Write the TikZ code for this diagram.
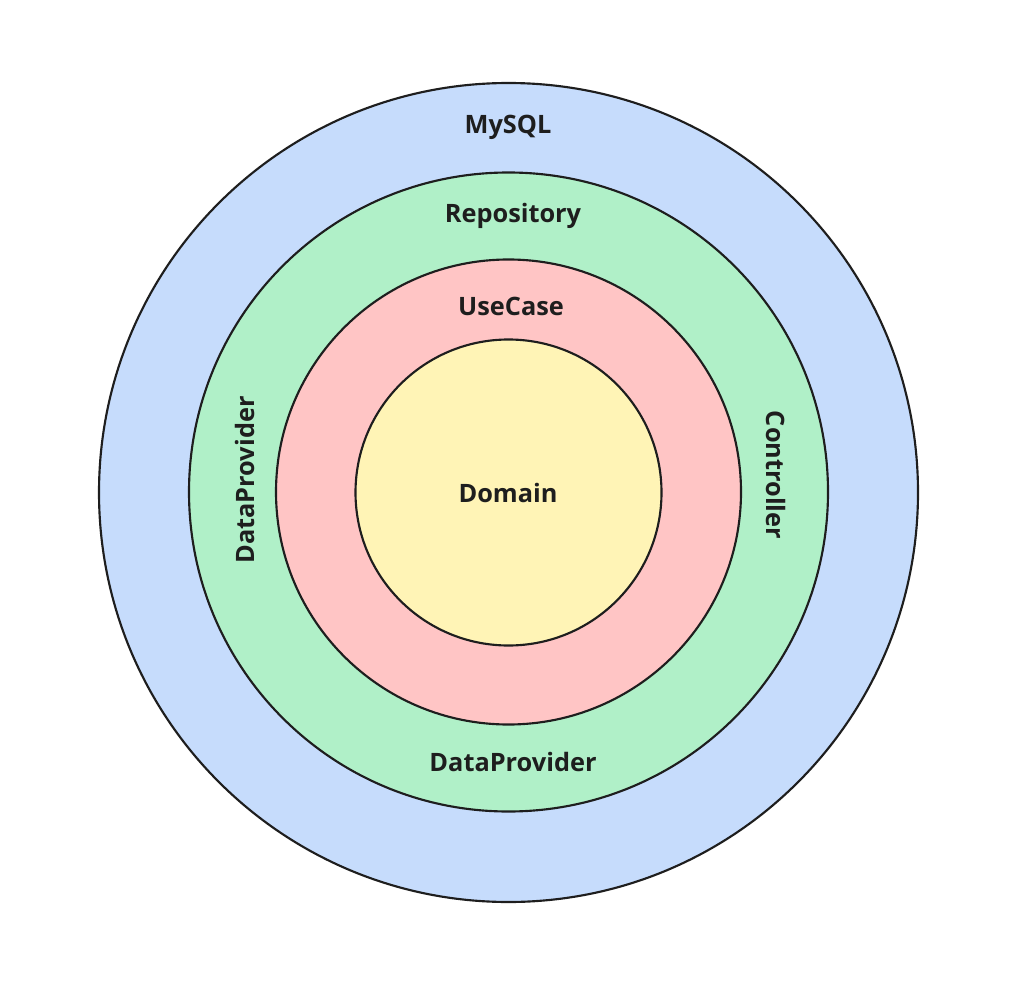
\documentclass[tikz,border=0pt]{standalone}
\usepackage{fontspec}
\setmainfont{Open Sans}
\definecolor{ringblue}{RGB}{198,220,252}
\definecolor{ringgreen}{RGB}{176,240,200}
\definecolor{ringpink}{RGB}{255,197,197}
\definecolor{ringyellow}{RGB}{255,244,182}
\definecolor{inkdark}{RGB}{30,30,30}
\begin{document}
\begin{tikzpicture}[x=0.75pt,y=-0.75pt,
  ring/.style={circle, draw=inkdark, line width=1.6pt, inner sep=0pt, outer sep=0pt},
  lbl/.style={font=\bfseries\fontsize{19}{22}\selectfont, text=inkdark, inner sep=0pt}]
\useasboundingbox (0,0) rectangle (1019,980);
\node[ring, fill=ringblue, minimum size=614.25pt] (mysql) at (508.5,492.5) {};
\node[ring, fill=ringgreen, minimum size=479.25pt] (repo) at (508.5,492) {};
\node[ring, fill=ringpink, minimum size=348.75pt] (usecase) at (508.5,492) {};
\node[ring, fill=ringyellow, minimum size=229.5pt] (domain) at (508.5,492.5) {};
\node[lbl] (tmysql) at (508,127) {MySQL};
\node[lbl] (trepo) at (513,216) {Repository};
\node[lbl] (tuse) at (511,306) {UseCase};
\node[lbl] (tdom) at (508,493) {Domain};
\node[lbl, rotate=90] (tdpl) at (245,480) {DataProvider};
\node[lbl, rotate=-90] (tctrl) at (776,475) {Controller};
\node[lbl] (tdpb) at (513,762) {DataProvider};
\end{tikzpicture}
\end{document}
